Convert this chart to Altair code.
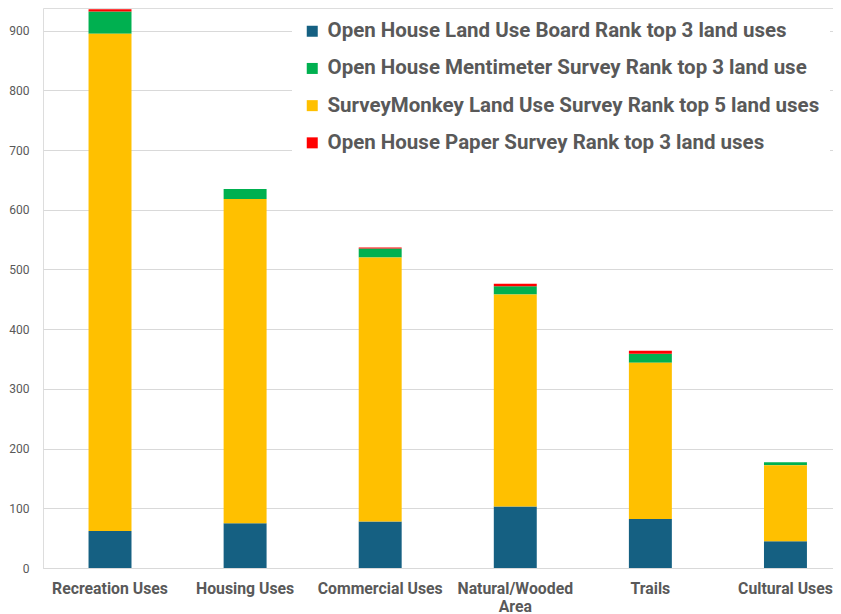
import altair as alt
import pandas as pd

categories = ["Recreation Uses", "Housing Uses", "Commercial Uses", "Natural/Wooded Area", "Trails", "Cultural Uses"]
series = [
    "Open House Land Use Board Rank top 3 land uses",
    "Open House Mentimeter Survey Rank top 3 land use",
    "SurveyMonkey Land Use Survey Rank top 5 land uses",
    "Open House Paper Survey Rank top 3 land uses",
]
board = [62, 75, 78, 103, 82, 45]
mentimeter = [37, 17, 15, 14, 15, 5]
surveymonkey = [833, 543, 442, 355, 262, 127]
paper = [4, 0, 2, 4, 5, 0]
stack_order = [0, 2, 1, 3]  # bottom-to-top order of series in each bar
colors = ["#156082", "#00B050", "#FFC000", "#FF0000"]

rows = []
for vals, s, o in zip([board, mentimeter, surveymonkey, paper], series, stack_order):
    for c, v in zip(categories, vals):
        rows.append({"Category": c, "Series": s, "Value": v, "Order": o})
df = pd.DataFrame(rows)

grey = "#595959"

chart = alt.Chart(df).mark_bar().encode(
    x=alt.X("Category:N", sort=categories,
            scale=alt.Scale(paddingInner=0.682, paddingOuter=0.265, align=0.636),
            axis=alt.Axis(title=None, labelAngle=0, labelFont="Roboto", labelFontWeight="bold",
                          labelFontSize=15.8, labelColor=grey, ticks=False, domainColor="#d9d9d9",
                          labelPadding=13, labelLineHeight=18,
                          labelExpr="datum.label == 'Natural/Wooded Area' ? ['Natural/Wooded', 'Area'] : datum.label")),
    y=alt.Y("Value:Q", stack="zero",
            scale=alt.Scale(domain=[0, 938], nice=False),
            axis=alt.Axis(title=None, values=[0, 100, 200, 300, 400, 500, 600, 700, 800, 900],
                          labelFont="Roboto", labelFontSize=12, labelColor=grey, ticks=False,
                          domain=False, gridColor="#d9d9d9", labelPadding=14)),
    color=alt.Color("Series:N", sort=series,
                    scale=alt.Scale(domain=series, range=colors),
                    legend=alt.Legend(title=None, orient="none", legendX=249, legendY=3, padding=10,
                                      symbolType="square", symbolSize=121, symbolStrokeWidth=0,
                                      labelFont="Roboto", labelFontWeight="bold", labelFontSize=20.5,
                                      labelColor=grey, rowPadding=16.2, labelOffset=5,
                                      labelLimit=600, fillColor="white")),
    order=alt.Order("Order:Q", sort="ascending"),
).properties(width=790, height=560).configure_view(stroke=None).configure(padding=0)

chart.save("out.html", embed_options={"renderer": "svg", "actions": False})
